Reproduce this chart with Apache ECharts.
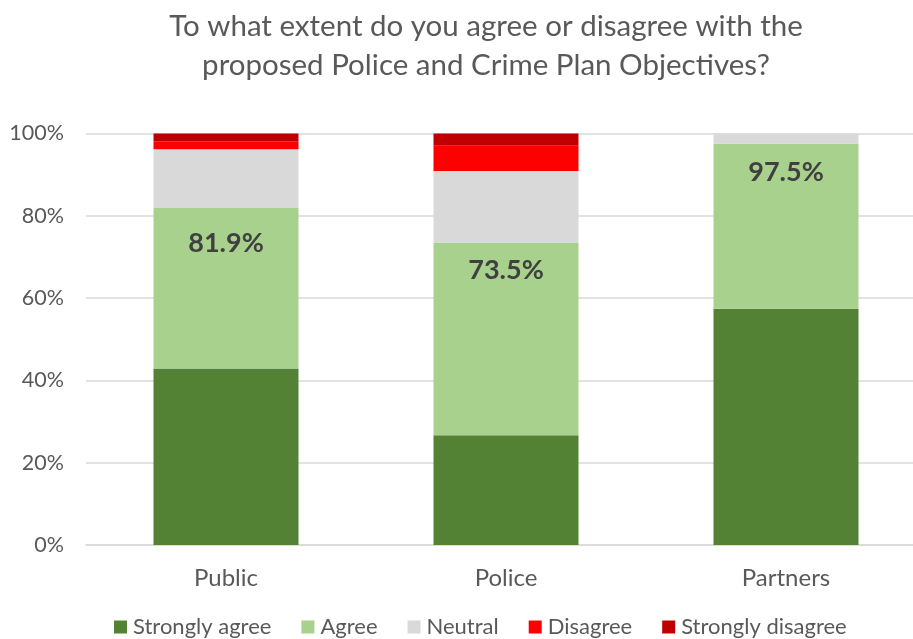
<!DOCTYPE html>
<html>
<head>
<meta charset="utf-8">
<script src="https://cdn.jsdelivr.net/npm/echarts@6/dist/echarts.min.js"></script>
<style>
  html, body { margin: 0; padding: 0; background: #fff; }
  #main { width: 913px; height: 639px; }
</style>
</head>
<body>
<div id="main"></div>
<script>
// categories and values (percent of respondents)
var groups = ['Public', 'Police', 'Partners'];
var stronglyAgree = [42.9, 26.7, 57.4];
var agree = [39.0, 46.8, 40.1];
var neutral = [14.3, 17.4, 2.5];
var disagree = [1.9, 6.1, 0];
var stronglyDisagree = [1.9, 3.0, 0];
var yTicks = [0, 20, 40, 60, 80, 100];

var font = 'Lato, "Open Sans", sans-serif';
// label distance from top of the Agree segment, per bar
var labelGap = [22, 14, 15];

function seg(name, data, color) {
  return {
    name: name,
    type: 'bar',
    stack: 'all',
    barWidth: 145,
    itemStyle: { color: color },
    emphasis: { disabled: true },
    data: data
  };
}

var agreeSeries = seg('Agree', agree.map(function (v, i) {
  return {
    value: v,
    label: { distance: labelGap[i] }
  };
}), '#A9D18E');
agreeSeries.label = {
  show: true,
  position: 'insideTop',
  fontFamily: font,
  fontWeight: 'bold',
  fontSize: 27,
  color: '#404040',
  formatter: function (p) {
    var total = stronglyAgree[p.dataIndex] + agree[p.dataIndex];
    return total.toFixed(1) + '%';
  }
};

var chart = echarts.init(document.getElementById('main'));
chart.setOption({
  animation: false,
  title: {
    text: 'To what extent do you agree or disagree with the\nproposed Police and Crime Plan Objectives?',
    left: 481,
    textAlign: 'center',
    top: 2,
    textStyle: {
      fontFamily: font,
      fontWeight: 'normal',
      fontSize: 29.5,
      lineHeight: 39,
      color: '#595959'
    }
  },
  legend: {
    top: 611,
    left: 109,
    itemWidth: 13,
    itemHeight: 13,
    itemGap: 30,
    icon: 'rect',
    textStyle: { fontFamily: font, fontSize: 22, color: '#595959', padding: [0, 0, 0, 1] },
    data: ['Strongly agree', 'Agree', 'Neutral', 'Disagree', 'Strongly disagree']
  },
  grid: { left: 86, top: 133.5, width: 840, height: 411.5, outerBoundsMode: 'none' },
  xAxis: {
    type: 'category',
    data: groups,
    axisLine: { lineStyle: { color: '#D9D9D9', width: 1.5 } },
    axisTick: { show: false },
    axisLabel: { fontFamily: font, fontSize: 24, color: '#595959', margin: 21 }
  },
  yAxis: {
    type: 'value',
    min: yTicks[0],
    max: yTicks[yTicks.length - 1],
    interval: 20,
    axisLine: { show: false },
    axisTick: { show: false },
    splitLine: { lineStyle: { color: '#D9D9D9', width: 1.5 } },
    axisLabel: {
      fontFamily: font, fontSize: 21.5, color: '#595959', margin: 22,
      formatter: '{value}%'
    }
  },
  series: [
    seg('Strongly agree', stronglyAgree, '#548235'),
    agreeSeries,
    seg('Neutral', neutral, '#D9D9D9'),
    seg('Disagree', disagree, '#FF0000'),
    seg('Strongly disagree', stronglyDisagree, '#C00000')
  ]
});
</script>
</body>
</html>
